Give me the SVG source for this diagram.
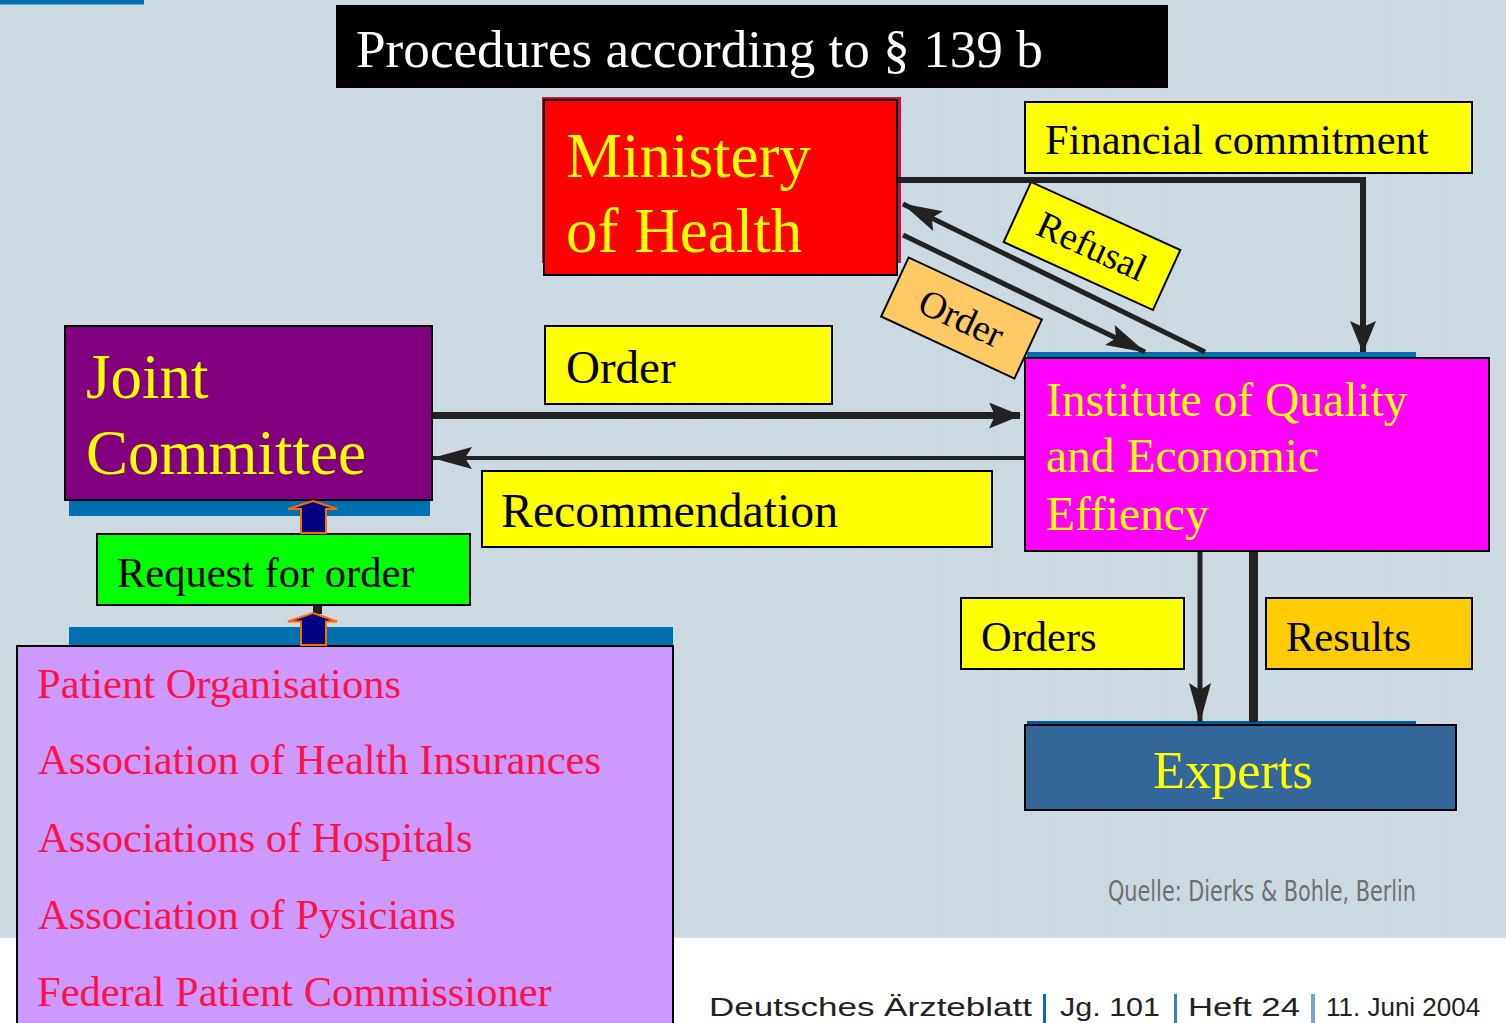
<svg xmlns="http://www.w3.org/2000/svg" width="1506" height="1023" viewBox="0 0 1506 1023">
<defs>
<pattern id="dots" patternUnits="userSpaceOnUse" width="9.33" height="8">
<rect width="9.33" height="8" fill="#cfd9e1"/>
<rect x="4" y="4.5" width="4" height="3.5" fill="#c0dbe2"/>
</pattern>
<marker id="ah" markerUnits="userSpaceOnUse" viewBox="0 0 40 24" markerWidth="40" markerHeight="24" refX="39" refY="12" orient="auto">
<path d="M0,1 L40,12 L0,23 L7,12 Z" fill="#222"/>
</marker>
<marker id="ahs" markerUnits="userSpaceOnUse" viewBox="0 0 32 26" markerWidth="32" markerHeight="26" refX="31" refY="13" orient="auto">
<path d="M0,0 L32,13 L0,26 L6,13 Z" fill="#222"/>
</marker>
<style>
.serif{font-family:"Liberation Serif","Times New Roman",serif;}
.box{stroke:#000;stroke-width:2;}
.yl{fill:#ffff00;}
.lbl{font-family:"Liberation Serif","Times New Roman",serif;fill:#000;}
.ytxt{font-family:"Liberation Serif","Times New Roman",serif;fill:#ffff00;}
.ptxt{font-family:"Liberation Serif","Times New Roman",serif;fill:#ff1048;font-size:42.5px;}
.bar{fill:#0070b0;}
.ln{stroke:#222;fill:none;}
.blk{fill:#000080;stroke:#ff6a00;stroke-width:2;stroke-linejoin:miter;}
</style>
</defs>

<rect width="1506" height="1023" fill="url(#dots)"/>
<rect x="0" y="938" width="1506" height="85" fill="#ffffff"/>
<rect x="0" y="0" width="144" height="4.5" class="bar"/>

<g id="title">
<rect x="336" y="5" width="832" height="83" fill="#000"/>
<text x="356" y="67" class="serif" font-size="53.2" fill="#fff">Procedures according to § 139 b</text>
</g>

<g id="ministry">
<rect x="542" y="97" width="359" height="166" fill="#d0103c"/>
<rect x="544" y="100" width="353" height="175" fill="#ff0000" class="box"/>
<text x="566" y="177" class="ytxt" font-size="63">Ministery</text>
<text x="566" y="252" class="ytxt" font-size="63">of Health</text>
</g>

<g id="financial">
<rect x="1025" y="102" width="447" height="71" class="box yl"/>
<text x="1045" y="154" class="lbl" font-size="42.5">Financial commitment</text>
</g>

<g id="refusal" transform="translate(1092,246) rotate(24.5)">
<rect x="-82" y="-33" width="164" height="66" class="box yl"/>
<text x="0" y="13" class="lbl" font-size="38" text-anchor="middle">Refusal</text>
</g>

<g id="order-diag" transform="translate(961.5,318) rotate(25)">
<rect x="-73.5" y="-32.5" width="147" height="65" class="box" fill="#ffc966"/>
<text x="0" y="13" class="lbl" font-size="38" text-anchor="middle">Order</text>
</g>

<g id="joint">
<rect x="69" y="500" width="361" height="16" class="bar"/>
<rect x="65" y="326" width="367" height="174" fill="#800080" class="box"/>
<text x="86" y="398" class="ytxt" font-size="63">Joint</text>
<text x="86" y="474" class="ytxt" font-size="63">Committee</text>
</g>

<g id="order">
<rect x="545" y="326" width="287" height="78" class="box yl"/>
<text x="566" y="383" class="lbl" font-size="47">Order</text>
</g>

<g id="recommendation">
<rect x="482" y="471" width="510" height="76" class="box yl"/>
<text x="501" y="527" class="lbl" font-size="47.8">Recommendation</text>
</g>

<g id="request">
<rect x="97" y="534" width="373" height="71" class="box" fill="#00ff00"/>
<text x="117" y="587" class="lbl" font-size="42.5">Request for order</text>
</g>

<g id="institute">
<rect x="1027" y="352" width="389" height="6" class="bar"/>
<rect x="1025" y="358" width="464" height="193" fill="#ff00ff" class="box"/>
<text x="1046" y="416" class="ytxt" font-size="47.5">Institute of Quality</text>
<text x="1046" y="472" class="ytxt" font-size="47.5">and Economic</text>
<text x="1046" y="530" class="ytxt" font-size="47.5">Effiency</text>
</g>

<g id="orders">
<rect x="961" y="598" width="223" height="71" class="box yl"/>
<text x="981" y="651" class="lbl" font-size="42.5">Orders</text>
</g>

<g id="results">
<rect x="1266" y="598" width="206" height="71" class="box" fill="#ffcc00"/>
<text x="1286" y="651" class="lbl" font-size="42.5">Results</text>
</g>

<g id="experts">
<rect x="1027" y="721" width="389" height="4" fill="#005c99"/>
<rect x="1025" y="725" width="431" height="85" fill="#336699" class="box"/>
<text x="1233" y="788" class="ytxt" font-size="52.4" text-anchor="middle">Experts</text>
</g>

<g id="patients">
<rect x="69" y="627" width="604" height="18" class="bar"/>
<rect x="17" y="646" width="656" height="390" fill="#cc99ff" class="box"/>
<text x="37" y="698" class="ptxt">Patient Organisations</text>
<text x="38" y="774" class="ptxt">Association of Health Insurances</text>
<text x="38" y="852" class="ptxt">Associations of Hospitals</text>
<text x="38" y="929" class="ptxt">Association of Pysicians</text>
<text x="37" y="1006" class="ptxt">Federal Patient Commissioner</text>
</g>

<g id="connectors">
<polyline class="ln" stroke-width="6" points="898,180 1363,180 1363,352" marker-end="url(#ahs)"/>
<line class="ln" stroke-width="5" x1="1205" y1="352" x2="903" y2="204" marker-end="url(#ah)"/>
<line class="ln" stroke-width="5" x1="903" y1="235" x2="1145" y2="352" marker-end="url(#ah)"/>
<line class="ln" stroke-width="7" x1="433" y1="415.5" x2="1020" y2="415.5" marker-end="url(#ahs)"/>
<line class="ln" stroke-width="4" x1="1024" y1="458" x2="433" y2="458" marker-end="url(#ah)"/>
<line class="ln" stroke-width="5" x1="1200" y1="552" x2="1200" y2="722" marker-end="url(#ah)"/>
<line class="ln" stroke-width="9" x1="1253.5" y1="552" x2="1253.5" y2="722"/>
<rect x="313" y="606" width="9" height="8" fill="#222"/>
<polygon class="blk" points="313,501 337,509 326,509 326,533 301,533 301,509 288,509"/>
<polygon class="blk" points="313,613 337,621.5 326,621.5 326,645 301,645 301,621.5 288,621.5"/>
</g>

<g id="source">
<text x="1108" y="901" font-family="'DejaVu Sans Condensed','Liberation Sans',sans-serif" font-size="29" fill="#6e6e6e" textLength="308" lengthAdjust="spacingAndGlyphs">Quelle: Dierks &amp; Bohle, Berlin</text>
</g>

<g id="footer" font-family="'Liberation Sans',Arial,sans-serif" font-size="26" fill="#222">
<text x="709" y="1016" textLength="323" lengthAdjust="spacingAndGlyphs">Deutsches Ärzteblatt</text>
<rect x="1043" y="994" width="3" height="29" fill="#0070b0"/>
<text x="1060" y="1016" textLength="100" lengthAdjust="spacingAndGlyphs">Jg. 101</text>
<rect x="1174" y="994" width="3" height="29" fill="#3a80c0"/>
<text x="1188" y="1016" textLength="112" lengthAdjust="spacingAndGlyphs">Heft 24</text>
<rect x="1311" y="994" width="4" height="29" fill="#7aa0d8"/>
<text x="1326" y="1016">11. Juni 2004</text>
</g>
</svg>
